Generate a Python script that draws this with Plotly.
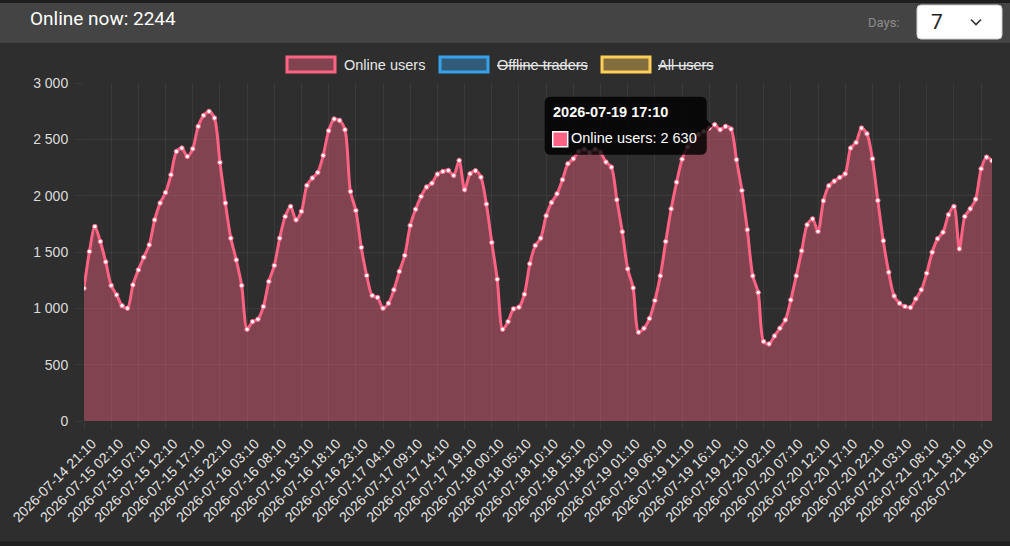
import pandas as pd
import plotly.graph_objects as go

# hourly samples, 7 days
times = pd.date_range("2026-07-14 21:10", periods=168, freq="h").strftime("%Y-%m-%d %H:%M").tolist()

online_users = [
    1178, 1504, 1726, 1593, 1412, 1202, 1119, 1024, 1001, 1208,
    1341, 1454, 1563, 1785, 1934, 2028, 2185, 2392, 2422, 2348,
    2416, 2615, 2712, 2748, 2689, 2295, 1934, 1623, 1430, 1202,
    814, 882, 903, 1016, 1238, 1380, 1623, 1815, 1904, 1785,
    1860, 2091, 2156, 2206, 2357, 2576, 2680, 2668, 2585, 2037,
    1868, 1540, 1291, 1113, 1096, 1001, 1045, 1164, 1327, 1469,
    1735, 1880, 1993, 2076, 2111, 2191, 2215, 2224, 2179, 2313,
    2052, 2194, 2221, 2164, 1925, 1584, 1258, 814, 882, 995,
    1010, 1125, 1395, 1557, 1623, 1821, 1939, 2016, 2141, 2283,
    2327, 2392, 2413, 2384, 2413, 2384, 2298, 2253, 1963, 1679,
    1350, 1181, 788, 823, 909, 1069, 1288, 1593, 1883, 2120,
    2324, 2431, 2502, 2541, 2570, 2600, 2630, 2585, 2615, 2591,
    2319, 2046, 1697, 1288, 1140, 705, 684, 755, 823, 897,
    1075, 1288, 1510, 1741, 1794, 1682, 1954, 2088, 2129, 2162,
    2194, 2422, 2472, 2600, 2549, 2327, 1957, 1599, 1321, 1110,
    1045, 1016, 1007, 1084, 1164, 1312, 1498, 1617, 1676, 1830,
    1904, 1528, 1815, 1883, 1969, 2238, 2342, 2310,
]

x_ticks = times[::5]
y_ticks = [0, 500, 1000, 1500, 2000, 2500, 3000]
y_ticktext = [f"{v:,}".replace(",", " ") for v in y_ticks]

legend_names = ["Online users", "Offline traders", "All users"]
legend_colors = ["#ff6384", "#36a2eb", "#ffce56"]
legend_fills = ["rgba(255,99,132,0.4)", "rgba(54,162,235,0.4)", "rgba(255,206,86,0.4)"]
legend_hidden = [False, True, True]

online_now = 2244
days = 7
hover_idx = 116

W, H = 1010, 546
L, R, T, B = 84, 18, 83, 125
PW, PH = W - L - R, H - T - B


def px(x):
    return (x - L) / PW


def py(y):
    return (H - B - y) / PH


def rounded_path(x0, y0, x1, y1, r):
    # rectangle with rounded corners, page pixels -> paper coords
    pts = [
        f"M {px(x0 + r)},{py(y0)}",
        f"L {px(x1 - r)},{py(y0)}",
        f"Q {px(x1)},{py(y0)} {px(x1)},{py(y0 + r)}",
        f"L {px(x1)},{py(y1 - r)}",
        f"Q {px(x1)},{py(y1)} {px(x1 - r)},{py(y1)}",
        f"L {px(x0 + r)},{py(y1)}",
        f"Q {px(x0)},{py(y1)} {px(x0)},{py(y1 - r)}",
        f"L {px(x0)},{py(y0 + r)}",
        f"Q {px(x0)},{py(y0)} {px(x0 + r)},{py(y0)}",
        "Z",
    ]
    return " ".join(pts)


fig = go.Figure()

fig.add_trace(go.Scatter(
    x=times,
    y=online_users,
    mode='lines+markers',
    name=legend_names[0],
    fill='tozeroy',
    fillcolor=legend_fills[0],
    line=dict(color=legend_colors[0], width=3, shape='spline', smoothing=0.8),
    marker=dict(size=4.5, color='#ffffff', line=dict(color=legend_colors[0], width=1)),
    hoverinfo='skip',
    showlegend=False,
))

grid = 'rgba(255,255,255,0.06)'
font_main = "Liberation Sans, Arial, sans-serif"

shapes = []
annotations = []

# header bar + bottom edge
shapes.append(dict(type='rect', xref='paper', yref='paper', x0=px(0), x1=px(W), y0=py(3), y1=py(0),
                   fillcolor='#1e1e1e', line_width=0, layer='below'))
shapes.append(dict(type='rect', xref='paper', yref='paper', x0=px(0), x1=px(W), y0=py(43), y1=py(3),
                   fillcolor='#444444', line_width=0, layer='below'))
shapes.append(dict(type='rect', xref='paper', yref='paper', x0=px(0), x1=px(W), y0=py(H), y1=py(541.5),
                   fillcolor='#202020', line_width=0, layer='below'))
annotations.append(dict(xref='paper', yref='paper', x=px(28), y=py(18), xanchor='left', yanchor='middle',
                        text=f"Online now: {online_now}", showarrow=False,
                        font=dict(family="Roboto, sans-serif", size=19, color='#ffffff')))
annotations.append(dict(xref='paper', yref='paper', x=px(902), y=py(22), xanchor='right', yanchor='middle',
                        text="Days:", showarrow=False,
                        font=dict(family="Roboto, sans-serif", size=13, color='#8c8c8c')))
# dropdown
shapes.append(dict(type='path', xref='paper', yref='paper', path=rounded_path(917, 5, 1002, 39, 4),
                   fillcolor='#ffffff', line=dict(color='#cfcfcf', width=1)))
shapes.append(dict(type='path', xref='paper', yref='paper',
                   path=f"M {px(971)},{py(19.5)} L {px(976)},{py(24.5)} L {px(981)},{py(19.5)}",
                   line=dict(color='#333333', width=1.6)))
annotations.append(dict(xref='paper', yref='paper', x=px(937), y=py(22), xanchor='center', yanchor='middle',
                        text=str(days), showarrow=False,
                        font=dict(family="Roboto, sans-serif", size=21, color='#222222')))

# legend (Chart.js style, hidden datasets struck through)
box_x = [287, 440, 602]
text_x = [344, 497, 658]
for name, col, fillc, hid, bx, tx in zip(legend_names, legend_colors, legend_fills, legend_hidden, box_x, text_x):
    shapes.append(dict(type='rect', xref='paper', yref='paper', x0=px(bx), x1=px(bx + 48),
                       y0=py(72), y1=py(57), fillcolor=fillc, line=dict(color=col, width=3)))
    label = f"<s>{name}</s>" if hid else name
    annotations.append(dict(xref='paper', yref='paper', x=px(tx - 2), y=py(64.5), xanchor='left',
                            yanchor='middle', text=label, showarrow=False,
                            font=dict(family=font_main, size=14.5, color='#e8e8e8')))

# tooltip at the hovered point
hx, hy = times[hover_idx], online_users[hover_idx]
tip = dict(type='path', xref='x', yref='y', xsizemode='pixel', ysizemode='pixel',
           xanchor=hx, yanchor=hy, layer='above', line_width=0, fillcolor='rgba(0,0,0,0.82)')
r = 6
x0, x1, y0, y1 = -170, -8, -30, 28
box = (f"M {x0 + r},{y1} L {x1 - r},{y1} Q {x1},{y1} {x1},{y1 - r} L {x1},{5} L {x1 + 6},{-1} "
       f"L {x1},{-7} L {x1},{y0 + r} Q {x1},{y0} {x1 - r},{y0} L {x0 + r},{y0} Q {x0},{y0} {x0},{y0 + r} "
       f"L {x0},{y1 - r} Q {x0},{y1} {x0 + r},{y1} Z")
shapes.append(dict(tip, path=box))
shapes.append(dict(type='rect', xref='x', yref='y', xsizemode='pixel', ysizemode='pixel',
                   xanchor=hx, yanchor=hy, x0=-162, x1=-147, y0=-22, y1=-7, layer='above',
                   fillcolor=legend_colors[0], line=dict(color='#ffffff', width=1.5)))
annotations.append(dict(xref='x', yref='y', x=hx, y=hy, xanchor='left', yanchor='middle',
                        xshift=-164, yshift=13, showarrow=False, text=f"<b>{hx}</b>",
                        font=dict(family=font_main, size=14.5, color='#ffffff')))
annotations.append(dict(xref='x', yref='y', x=hx, y=hy, xanchor='left', yanchor='middle',
                        xshift=-146, yshift=-13, showarrow=False,
                        text=f"{legend_names[0]}: " + f"{hy:,}".replace(",", " "),
                        font=dict(family=font_main, size=14.5, color='#ffffff')))

fig.update_layout(
    width=W,
    height=H,
    margin=dict(l=L, r=R, t=T, b=B, pad=0, autoexpand=False),
    paper_bgcolor='#2e2e2e',
    plot_bgcolor='#2e2e2e',
    showlegend=False,
    shapes=shapes,
    annotations=annotations,
    xaxis=dict(
        type='category',
        automargin=False,
        range=[0, len(times) - 1],
        tickmode='array',
        tickvals=x_ticks,
        ticktext=x_ticks,
        tickangle=-45,
        showgrid=True,
        gridcolor=grid,
        zeroline=False,
        showline=False,
        ticks='outside',
        ticklen=8,
        tickcolor=grid,
        ticklabelshift=8,
        ticklabelstandoff=0,
        tickfont=dict(family=font_main, size=14, color='#e6e6e6'),
    ),
    yaxis=dict(
        automargin=False,
        range=[0, 3000],
        tickmode='array',
        tickvals=y_ticks,
        ticktext=y_ticktext,
        showgrid=True,
        gridcolor=grid,
        zeroline=False,
        showline=False,
        ticks='outside',
        ticklen=8,
        tickcolor=grid,
        ticklabelstandoff=4,
        tickfont=dict(family=font_main, size=14, color='#dcdcdc'),
    ),
)

# page has no body margin in the original screenshot
fig.write_html("out.html", config={'displayModeBar': False},
               post_script="document.body.style.margin='0';")
